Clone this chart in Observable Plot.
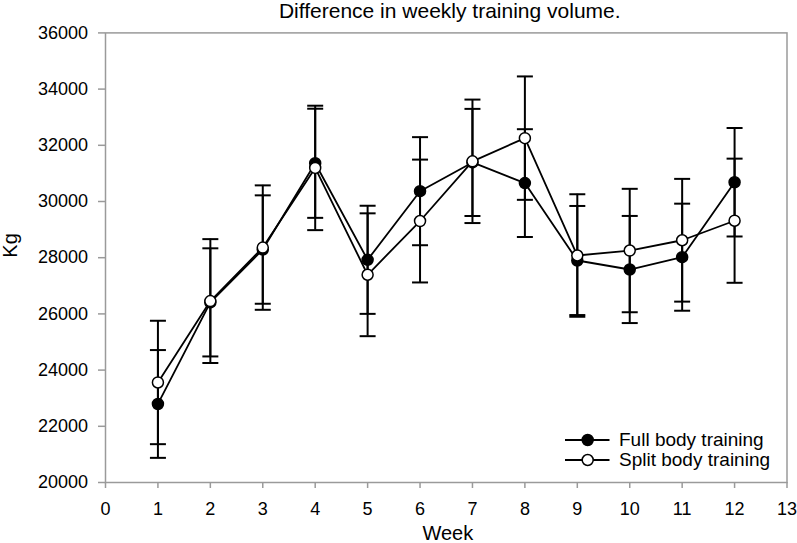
<!DOCTYPE html>
<html><head><meta charset="utf-8">
<script src="https://cdn.jsdelivr.net/npm/d3@7"></script>
<script src="https://cdn.jsdelivr.net/npm/@observablehq/plot@0.6"></script>
<style>
body{margin:0;background:#fff;font-family:"Liberation Sans",Arial,sans-serif}
#chart{position:relative;width:797px;height:543px}
#legend{position:absolute;left:0;top:0;pointer-events:none}
</style>
</head><body><div id="chart"></div>
<script>
const titleText = "Difference in weekly training volume.";
const xLabel = "Week";
const yLabel = "Kg";
const seriesNames = ["Full body training", "Split body training"];
const weeks = [1, 2, 3, 4, 5, 6, 7, 8, 9, 10, 11, 12];
const fullBody   = [22795, 26410, 28290, 31360, 27925, 30367, 31390, 30655, 27900, 27580, 28018, 30685];
const fullBodySD = [1918, 1924, 1929, 1942, 1924, 1923, 1906, 1918, 1941, 1906, 1905, 1930];
const splitBody   = [23560, 26457, 28360, 31195, 27393, 29305, 31430, 32255, 28078, 28255, 28621, 29316];
const splitBodySD = [2196, 2204, 2214, 2214, 2186, 2186, 2197, 2196, 2180, 2196, 2184, 2209];
const xTicks = [0, 1, 2, 3, 4, 5, 6, 7, 8, 9, 10, 11, 12, 13];
const yTicks = [20000, 22000, 24000, 26000, 28000, 30000, 32000, 34000, 36000];

const full = weeks.map((w, i) => ({week: w, value: fullBody[i], lo: fullBody[i] - fullBodySD[i], hi: fullBody[i] + fullBodySD[i]}));
const split = weeks.map((w, i) => ({week: w, value: splitBody[i], lo: splitBody[i] - splitBodySD[i], hi: splitBody[i] + splitBodySD[i]}));
const all = [...full, ...split];
const caps = all.flatMap(d => [{week: d.week, y: d.lo}, {week: d.week, y: d.hi}]);

const capSymbol = {draw(ctx, size) { const r = Math.sqrt(size / Math.PI); ctx.moveTo(-r, 0); ctx.lineTo(r, 0); }};
const font = "Liberation Sans, Arial, sans-serif";

const plot = Plot.plot({
  width: 797, height: 543,
  marginLeft: 105, marginRight: 10.5, marginTop: 32.4, marginBottom: 61,
  style: {fontFamily: font, fontSize: "18px", color: "black", background: "white", overflow: "visible"},
  x: {domain: [0, 13]},
  y: {domain: [20000, 36000]},
  marks: [
    Plot.frame({stroke: "#9a9a9a", strokeWidth: 1.5}),
    Plot.axisX({ticks: xTicks, tickSize: 6, tickPadding: 13.7, stroke: "#9a9a9a", fill: "black", strokeWidth: 1.5, label: null, fontSize: 18, tickFormat: "d"}),
    Plot.axisY({ticks: yTicks, tickSize: 7, tickPadding: 10.5, stroke: "#9a9a9a", fill: "black", strokeWidth: 1.5, label: null, fontSize: 18, tickFormat: "d"}),
    Plot.text([titleText], {frameAnchor: "top", lineAnchor: "bottom", dy: -15.4, dx: 3.5, fontSize: 21, fill: "black"}),
    Plot.text([xLabel], {frameAnchor: "bottom", lineAnchor: "bottom", dy: 57.3, dx: 1.5, fontSize: 20, fill: "black"}),
    Plot.text([yLabel], {frameAnchor: "left", lineAnchor: "top", rotate: -90, dx: -103, fontSize: 20, fill: "black"}),
    Plot.ruleX(all, {x: "week", y1: "lo", y2: "hi", stroke: "black", strokeWidth: 2}),
    Plot.dot(caps, {x: "week", y: "y", r: 8, symbol: capSymbol, stroke: "black", strokeWidth: 2, fill: "none"}),
    Plot.line(full, {x: "week", y: "value", stroke: "black", strokeWidth: 1.8}),
    Plot.line(split, {x: "week", y: "value", stroke: "black", strokeWidth: 1.8}),
    Plot.dot(full, {x: "week", y: "value", r: 5.5, fill: "black", stroke: "black", strokeWidth: 1.5}),
    Plot.dot(split, {x: "week", y: "value", r: 5.5, fill: "white", stroke: "black", strokeWidth: 1.5})
  ]
});
document.getElementById("chart").appendChild(plot);

// legend overlay
const lg = d3.select("#chart").append("svg").attr("id", "legend").attr("width", 797).attr("height", 543);
const rows = [{name: seriesNames[0], fill: "black", y: 440}, {name: seriesNames[1], fill: "white", y: 460}];
rows.forEach(r => {
  lg.append("line").attr("x1", 565).attr("x2", 609.5).attr("y1", r.y).attr("y2", r.y).attr("stroke", "black").attr("stroke-width", 1.8);
  lg.append("circle").attr("cx", 587.7).attr("cy", r.y).attr("r", 5.5).attr("fill", r.fill).attr("stroke", "black").attr("stroke-width", 1.5);
  lg.append("text").attr("x", 619).attr("y", r.y + 6.3).attr("font-family", font).attr("font-size", 19).attr("fill", "black").text(r.name);
});
</script>
</body></html>
